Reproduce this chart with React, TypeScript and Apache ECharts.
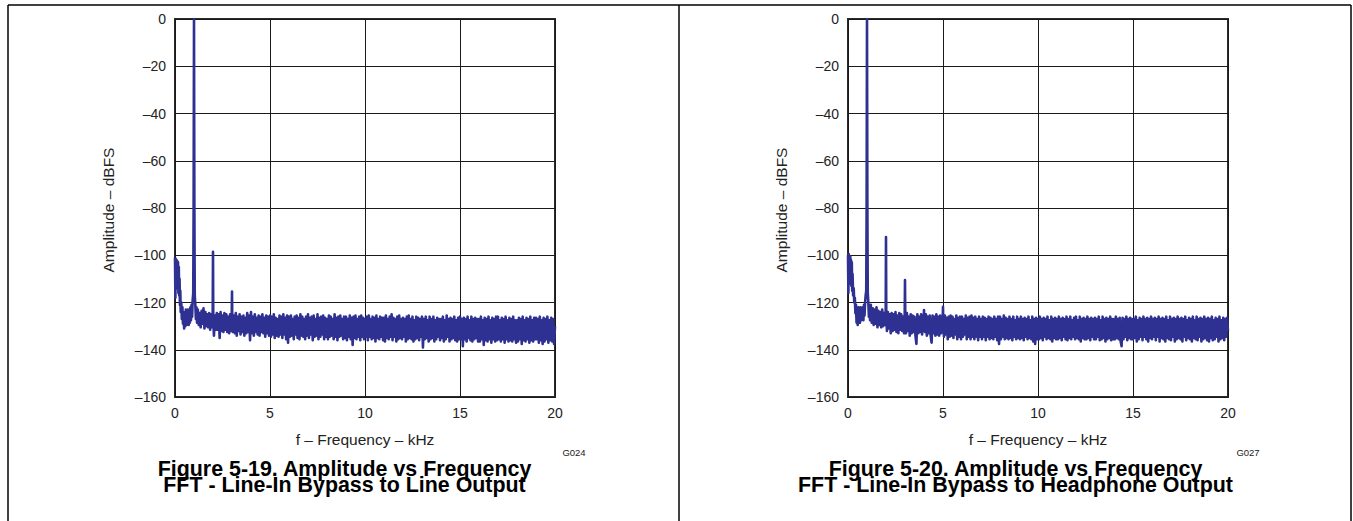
import React, { useEffect, useRef } from "react";
import * as echarts from "echarts";

// ---------- data ----------
const X_TICKS = [0, 5, 10, 15, 20];
const Y_MIN = -160;
const Y_MAX = 0;
const FLOOR_STEP = 0.05; // kHz per FFT bin in the floor arrays

// Low-frequency region, left figure (kHz, dBFS)
const LEFT_LOW: [number, number][] = [
  [0, -101], [0.02, -118], [0.04, -101.5], [0.06, -112], [0.08, -102], [0.1, -114],
  [0.12, -102.5], [0.14, -112], [0.16, -103], [0.18, -116], [0.2, -105], [0.22, -117],
  [0.24, -110], [0.26, -121], [0.28, -115], [0.3, -124], [0.33, -120], [0.36, -127],
  [0.39, -122], [0.42, -129], [0.45, -124], [0.48, -131], [0.51, -125], [0.54, -130],
  [0.57, -123], [0.6, -129.5], [0.63, -124], [0.66, -128.5], [0.69, -123], [0.72, -129.5],
  [0.75, -124], [0.78, -128.5], [0.81, -122], [0.84, -127.5], [0.87, -121], [0.9, -126],
  [0.93, -119], [0.96, -116], [0.98, -80], [1.0, 0], [1.02, -80], [1.04, -117],
  [1.07, -121], [1.1, -127], [1.13, -122], [1.16, -128.5],
];

// Noise floor, left figure: 1.20 kHz to 20.00 kHz in 0.05 kHz bins
const LEFT_FLOOR_START = 1.2;
const LEFT_FLOOR: number[] = [
  -123, -129.5, -124.5, -130.5, -123.5, -129, -122.5, -131, -124, -130, -125, -130.5, -124.5, -131.5, -125, -130.5,
  -126, -134, -125.5, -131.5, -124.5, -131.5, -125, -135, -124, -132, -125.5, -132.5, -124.5, -131.5, -125, -132.5, -126, -133, -125, -132,
  -127, -132.5, -125.5, -133, -124.5, -134, -126, -132, -125, -133.5, -126, -132.5, -125.5, -134, -126.5, -133, -124.5, -132.5, -125.5, -136,
  -124, -133, -126, -134, -125, -132.5, -126.5, -133.5, -125.5, -134, -126, -132.5, -125, -133, -126.5, -134.5, -125.5, -133, -126, -134,
  -125.5, -134.5, -126, -133.5, -125, -135, -126.5, -134, -127, -134.5, -125.5, -133.5, -126, -135, -125, -133.5, -126.5, -135.5, -125.5, -137,
  -126, -134.5, -125.5, -134, -127, -135.5, -126, -133.5, -125.5, -135, -126.5, -135.5, -125, -134, -126, -134.5, -127, -135.5, -126, -134,
  -125, -135, -126.5, -133.5, -126, -136, -125.5, -134.5, -127, -134, -125, -135.5, -126.5, -134.5, -126, -133.5, -125.5, -135.5, -126.5, -134.5,
  -127, -135.5, -125.5, -134.5, -126, -134, -127, -135.5, -125, -134.5, -126.5, -136, -126, -134.5, -125.5, -134, -127, -135.5, -126, -135,
  -126, -136, -127, -134.5, -125.5, -135.5, -126.5, -138, -126, -135, -125.5, -135.5, -127, -134.5, -126, -136, -125.5, -134.5, -126.5, -135.5,
  -127, -134.5, -126, -136, -125.5, -134.5, -127, -135.5, -126, -135, -126.5, -136.5, -125.5, -135, -127, -135.5, -126, -134.5, -126.5, -136,
  -126.5, -136.5, -125.5, -135, -127, -135.5, -126, -134.5, -125, -136, -126.5, -134.5, -127, -136.5, -126, -135.5, -125.5, -135, -127, -135.5,
  -126.5, -134.5, -127, -136.5, -126, -135.5, -125.5, -135, -127, -135.5, -126, -136.5, -127.5, -135.5, -126, -135, -126.5, -136, -127, -134.5,
  -126, -139, -127, -135.5, -126, -135, -127.5, -136.5, -126, -135.5, -127, -135, -126, -136.5, -127.5, -135.5, -126.5, -134.5, -127, -136,
  -127, -135, -126, -136.5, -127.5, -135.5, -125.5, -134.5, -127, -136.5, -126.5, -135.5, -127, -135, -126, -136, -127.5, -136.5, -126.5, -135.5,
  -126, -135.5, -127, -138.5, -126.5, -135.5, -127, -136.5, -126, -135, -127.5, -136, -126, -136.5, -127, -135.5, -126.5, -135, -127, -136.5,
  -127, -136.5, -126, -135.5, -127.5, -138, -126.5, -136, -127, -136.5, -126, -135.5, -127.5, -137, -126.5, -135.5, -127, -136.5, -126, -136,
  -126, -135.5, -127.5, -136.5, -126.5, -135.5, -127, -137, -126, -135.5, -127.5, -136.5, -126.5, -136, -127, -136.5, -126, -135.5, -127.5, -137,
  -127.5, -136.5, -126.5, -135.5, -127, -137.5, -126, -136, -127.5, -136.5, -126.5, -135.5, -127, -137, -126, -136, -127.5, -136.5, -126.5, -135.5,
  -126.5, -135.5, -127, -137, -126, -136, -127.5, -137.5, -126.5, -136.5, -127, -135.5, -126, -137, -127.5, -136, -126.5, -136.5, -127, -137.5,
  -130,
];

// Harmonic spikes, left figure
const LEFT_HARMONICS: [number, number][] = [
  [1.985, -125], [2.0, -98.5], [2.015, -128],
  [2.985, -126], [3.0, -115.4], [3.015, -129],
];

// Low-frequency region, right figure
const RIGHT_LOW: [number, number][] = [
  [0, -100], [0.02, -116], [0.04, -99.5], [0.06, -110], [0.08, -101], [0.1, -112],
  [0.12, -100.5], [0.14, -111], [0.16, -102], [0.18, -113], [0.2, -103], [0.22, -115],
  [0.24, -108], [0.27, -117], [0.3, -114], [0.33, -120], [0.36, -118], [0.39, -124.5],
  [0.42, -121], [0.45, -128.5], [0.48, -123], [0.51, -129.5], [0.54, -122], [0.57, -127.5],
  [0.6, -123], [0.63, -128.5], [0.66, -122], [0.69, -127.5], [0.72, -123], [0.75, -126.5],
  [0.78, -122], [0.81, -127.5], [0.84, -121], [0.87, -125.5], [0.9, -120], [0.93, -117],
  [0.96, -115], [0.98, -80], [1.0, 0], [1.02, -80], [1.04, -116], [1.07, -120],
  [1.1, -126], [1.13, -121], [1.16, -127.5],
];

// Noise floor, right figure: 1.20 kHz to 20.00 kHz in 0.05 kHz bins
const RIGHT_FLOOR_START = 1.2;
const RIGHT_FLOOR: number[] = [
  -121, -128.5, -122.5, -129.5, -123, -129, -122, -130.5, -123.5, -129.5, -124, -130.5, -123, -130, -124.5, -129.5,
  -125, -132, -124, -131, -125, -133, -124.5, -132, -125, -131.5, -124, -132.5, -125.5, -133, -124.5, -131.5, -125, -132, -126, -133,
  -126, -133, -124.5, -132, -126, -134, -125, -133, -125.5, -132.5, -126, -134, -137.5, -125, -133, -126, -132.5, -125, -133.5, -125.5,
  -126, -132.5, -125, -134, -126, -133, -125.5, -134, -137, -125.5, -133, -126, -134, -125, -133.5, -126, -134, -125.5, -133, -126.5,
  -126, -134.5, -125.5, -133.5, -126.5, -135.5, -126, -134.5, -125.5, -134, -126, -135, -127, -133.5, -125.5, -135.5, -126.5, -134.5, -126, -135.5,
  -126, -134.5, -127, -133.5, -125.5, -135.5, -126.5, -134.5, -126, -135.5, -125.5, -134.5, -126.5, -135.5, -126, -134.5, -127, -136, -126, -134.5,
  -127, -135.5, -126, -134.5, -126.5, -136, -127, -134.5, -126, -135.5, -126.5, -135, -127, -135.5, -126, -134.5, -127, -136, -126, -137.5,
  -126, -135.5, -127, -134.5, -125.5, -135.5, -126.5, -135, -127, -135.5, -126, -135, -127, -136, -126, -134.5, -127.5, -135.5, -126, -135,
  -127, -135.5, -126, -135, -127, -136, -126.5, -134.5, -127, -135.5, -126, -135, -127.5, -135.5, -126, -136.5, -127, -137.5, -126.5, -135.5,
  -127, -135.5, -126, -135, -127, -136, -126.5, -134.5, -127, -135.5, -126, -135, -127.5, -135.5, -126, -136.5, -127, -135, -126.5, -135.5,
  -127, -135.5, -126, -135, -127, -136, -126.5, -134.5, -127, -135.5, -126, -136, -127, -135, -126, -135.5, -127.5, -134.5, -126.5, -135.5,
  -126, -135, -127.5, -135.5, -126, -136.5, -127, -135, -126.5, -135.5, -127, -135.5, -126, -135, -127, -136, -126.5, -134.5, -127, -135.5,
  -126.5, -135.5, -127, -134.5, -126, -136, -127.5, -135.5, -126, -135, -127, -136.5, -126.5, -135.5, -127, -135, -126, -136, -127, -135.5,
  -127, -135.5, -126, -135, -127, -135.5, -126.5, -136.5, -138.5, -126.5, -135.5, -127, -134.5, -126, -136, -127, -135, -126.5, -135.5, -127,
  -135.5, -127, -135, -126, -136.5, -127.5, -135.5, -126.5, -134.5, -127, -136, -126, -134.5, -127, -135.5, -126.5, -136.5, -127, -135, -126,
  -135.5, -127, -134.5, -126.5, -136, -127, -134.5, -126, -136.5, -127, -135, -126.5, -135.5, -127, -136.5, -126, -135, -127.5, -135.5, -126,
  -136, -127, -134.5, -126.5, -136.5, -127, -135.5, -126, -135, -127, -135.5, -126.5, -136.5, -127, -134.5, -126, -136, -127.5, -135, -126.5,
  -135.5, -127, -136.5, -126, -135, -127.5, -135.5, -126, -136, -127, -134.5, -126.5, -136.5, -127, -135.5, -126, -135, -127, -136, -126.5,
  -136.5, -127, -135, -126, -136, -127.5, -135.5, -126.5, -134.5, -127, -136.5, -126, -135.5, -127.5, -135, -126.5, -136, -127, -134.5, -126.5,
  -132,
];

const RIGHT_HARMONICS: [number, number][] = [
  [1.985, -124], [2.0, -92.3], [2.015, -127],
  [2.985, -125], [3.0, -110.5], [3.015, -128],
  [3.985, -128], [4.0, -123.2], [4.015, -130],
  [4.985, -127], [5.0, -121.8], [5.015, -130],
];

const TITLES = [
  ["Figure 5-19. Amplitude vs Frequency", "FFT - Line-In Bypass to Line Output"],
  ["Figure 5-20. Amplitude vs Frequency", "FFT - Line-In Bypass to Headphone Output"],
];
const CODES = ["G024", "G027"];
const X_NAME = "f – Frequency – kHz";
const Y_NAME = "Amplitude – dBFS";

// ---------- helpers ----------
function buildTrace(
  low: [number, number][],
  floorStart: number,
  floor: number[],
  harmonics: [number, number][]
): [number, number][] {
  const pts: [number, number][] = [...low];
  floor.forEach((v, i) => {
    const f = Math.round((floorStart + i * FLOOR_STEP) * 1000) / 1000;
    if (!harmonics.some((h) => Math.abs(h[0] - f) < 0.001)) pts.push([f, v]);
  });
  pts.push(...harmonics);
  pts.sort((a, b) => a[0] - b[0]);
  return pts;
}

const FONT = '"Liberation Sans", Arial, Helvetica, sans-serif';
const TRACE = "#2e3192";

export default function App() {
  const ref = useRef<HTMLDivElement>(null);

  useEffect(() => {
    if (!ref.current) return;
    const chart = echarts.init(ref.current, undefined, { renderer: "svg" });

    const grids = [
      { left: 175, top: 19, width: 380, height: 378 },
      { left: 848, top: 19, width: 380, height: 378 },
    ];
    const traces = [
      buildTrace(LEFT_LOW, LEFT_FLOOR_START, LEFT_FLOOR, LEFT_HARMONICS),
      buildTrace(RIGHT_LOW, RIGHT_FLOOR_START, RIGHT_FLOOR, RIGHT_HARMONICS),
    ];

    const fmt = (v: number) => (v < 0 ? "–" + Math.abs(v) : String(v));

    const xAxes = grids.map((_, i) => ({
      gridIndex: i,
      type: "value",
      min: X_TICKS[0],
      max: X_TICKS[X_TICKS.length - 1],
      interval: 5,
      axisLine: { show: false },
      axisTick: { show: false },
      splitLine: { show: true, lineStyle: { color: "#1a1a1a", width: 1 } },
      axisLabel: { fontSize: 14, color: "#222", fontFamily: FONT, margin: 9, formatter: fmt },
    }));
    const yAxes = grids.map((_, i) => ({
      gridIndex: i,
      type: "value",
      min: Y_MIN,
      max: Y_MAX,
      interval: 20,
      axisLine: { show: false },
      axisTick: { show: false },
      splitLine: { show: true, lineStyle: { color: "#1a1a1a", width: 1 } },
      axisLabel: { fontSize: 14, color: "#222", fontFamily: FONT, margin: 9, formatter: fmt },
    }));

    const series = traces.map((d, i) => ({
      type: "line",
      xAxisIndex: i,
      yAxisIndex: i,
      data: d,
      showSymbol: false,
      symbol: "none",
      silent: true,
      lineStyle: { color: TRACE, width: 2.6, join: "round" },
      itemStyle: { color: TRACE },
      z: 3,
    }));

    const borderLine = (x1: number, y1: number, x2: number, y2: number) => ({
      type: "line",
      shape: { x1, y1, x2, y2 },
      style: { stroke: "#000", lineWidth: 1.5 },
      silent: true,
    });

    const texts: any[] = [];
    const titleCx = [344.5, 1015.5];
    const xNameCx = [365, 1038];
    const yNameCx = [108, 781];
    const codeCx = [574, 1248];
    for (let i = 0; i < 2; i++) {
      texts.push({
        type: "text",
        x: xNameCx[i],
        y: 439,
        style: { text: X_NAME, fontSize: 15.5, fontFamily: FONT, fill: "#222", align: "center", verticalAlign: "middle" },
      });
      texts.push({
        type: "text",
        x: yNameCx[i],
        y: 210,
        rotation: Math.PI / 2,
        style: { text: Y_NAME, fontSize: 15.5, fontFamily: FONT, fill: "#222", align: "center", verticalAlign: "middle" },
      });
      texts.push({
        type: "text",
        x: codeCx[i],
        y: 452,
        style: { text: CODES[i], fontSize: 9.5, fontFamily: FONT, fill: "#222", align: "center", verticalAlign: "middle" },
      });
      texts.push({
        type: "text",
        x: titleCx[i],
        y: 477,
        style: {
          text: TITLES[i][0] + "\n" + TITLES[i][1],
          fontSize: 21.4,
          lineHeight: 16,
          fontWeight: "bold",
          fontFamily: FONT,
          fill: "#000",
          align: "center",
          verticalAlign: "middle",
        },
      });
    }

    chart.setOption({
      animation: false,
      backgroundColor: "#fff",
      grid: grids.map((g) => ({ ...g, show: true, borderColor: "#2a2a2a", borderWidth: 2, backgroundColor: "transparent" })),
      xAxis: xAxes,
      yAxis: yAxes,
      series,
      graphic: [
        borderLine(8, 5, 1351, 5),
        borderLine(8, 5, 8, 521),
        borderLine(679, 5, 679, 521),
        borderLine(1351, 5, 1351, 521),
        ...texts,
      ],
    });

    return () => chart.dispose();
  }, []);

  return (
    <div
      ref={ref}
      style={{ position: "absolute", left: 0, top: 0, width: 1353, height: 521 }}
    />
  );
}
